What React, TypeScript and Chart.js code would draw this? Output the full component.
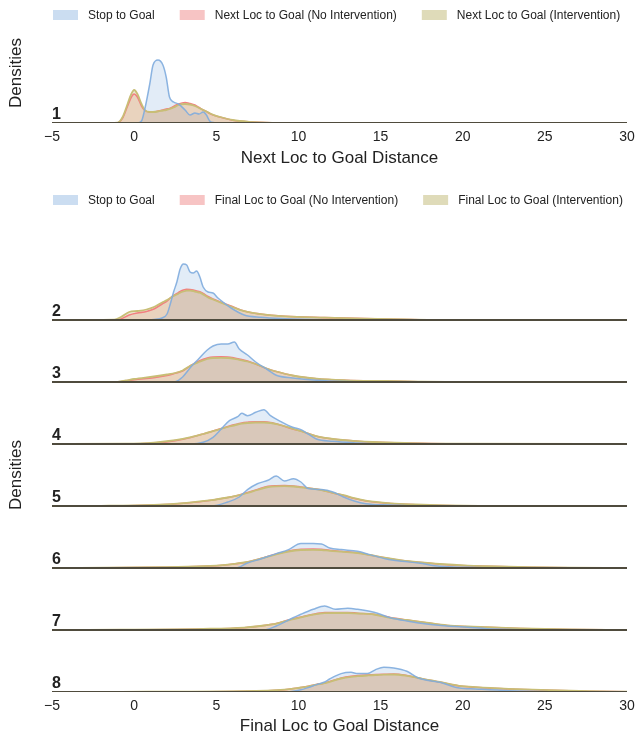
import React, { useEffect, useRef } from "react";
import { Chart, registerables } from "chart.js";

Chart.register(...registerables);

const FONT = "'Liberation Sans', Arial, Helvetica, sans-serif";

// ---------- axis / text ----------
const X_MIN = -5;
const X_MAX = 30;
const X_STEP = 5;
const Y_TITLE = "Densities";
const TOP_X_TITLE = "Next Loc to Goal Distance";
const BOTTOM_X_TITLE = "Final Loc to Goal Distance";
const TOP_LEGEND = ["Stop to Goal", "Next Loc to Goal (No Intervention)", "Next Loc to Goal (Intervention)"];
const BOTTOM_LEGEND = ["Stop to Goal", "Final Loc to Goal (No Intervention)", "Final Loc to Goal (Intervention)"];

// ---------- ridge 1 (Next Loc to Goal) ----------
const ridge1X = [-5, -1.5, -1, -0.7, -0.4, -0.2, 0, 0.2, 0.45, 0.65, 0.95, 1.15, 1.45, 1.75, 1.95, 2.15, 2.4, 2.7, 3.1, 3.4, 3.7, 3.95, 4.2, 4.4, 4.6, 4.9, 5.2, 6, 7, 8.5, 10, 30];
const ridge1Stop = [0, 0, 0, 0, 0, 0, 0, 0, 0.02, 0.14, 0.39, 0.58, 0.63, 0.58, 0.46, 0.26, 0.21, 0.19, 0.13, 0.08, 0.1, 0.09, 0.11, 0.08, 0.02, 0.003, 0, 0, 0, 0, 0, 0];
const ridge1NoInt = [0, 0, 0.003, 0.05, 0.17, 0.25, 0.29, 0.26, 0.17, 0.125, 0.11, 0.11, 0.12, 0.13, 0.14, 0.145, 0.165, 0.19, 0.205, 0.195, 0.18, 0.155, 0.13, 0.115, 0.095, 0.075, 0.06, 0.028, 0.011, 0.002, 0, 0];
const ridge1Int = [0, 0, 0.004, 0.06, 0.19, 0.28, 0.33, 0.29, 0.19, 0.13, 0.11, 0.11, 0.115, 0.125, 0.13, 0.14, 0.155, 0.18, 0.19, 0.185, 0.17, 0.15, 0.13, 0.115, 0.097, 0.077, 0.062, 0.03, 0.012, 0.002, 0, 0];

// ---------- ridges 2..8 (Final Loc to Goal) ----------
const ridge2X = [-5, -1.2, -0.8, -0.3, 0.2, 0.75, 1.2, 1.7, 2.0, 2.2, 2.4, 2.6, 2.8, 3.0, 3.2, 3.4, 3.6, 3.8, 4.0, 4.2, 4.5, 4.8, 5.1, 5.4, 5.9, 6.7, 7.7, 9.2, 11.6, 14, 16.6, 18.5, 30];
const ridge2Stop = [0, 0, 0, 0, 0, 0.002, 0.005, 0.02, 0.06, 0.16, 0.28, 0.38, 0.51, 0.56, 0.55, 0.48, 0.47, 0.49, 0.43, 0.33, 0.28, 0.27, 0.22, 0.18, 0.12, 0.05, 0.027, 0.013, 0.003, 0, 0, 0, 0];
const ridge2NoInt = [0, 0, 0.01, 0.05, 0.07, 0.085, 0.11, 0.16, 0.19, 0.22, 0.245, 0.265, 0.285, 0.3, 0.307, 0.305, 0.3, 0.29, 0.283, 0.265, 0.235, 0.21, 0.19, 0.17, 0.14, 0.09, 0.06, 0.037, 0.024, 0.014, 0.005, 0.001, 0];
const ridge2Int = [0, 0.003, 0.03, 0.08, 0.09, 0.105, 0.13, 0.175, 0.2, 0.22, 0.24, 0.255, 0.273, 0.285, 0.293, 0.293, 0.29, 0.28, 0.273, 0.256, 0.225, 0.205, 0.185, 0.165, 0.135, 0.088, 0.058, 0.036, 0.023, 0.013, 0.005, 0.001, 0];

const ridge3X = [-5, -1, -0.5, 0, 1.2, 2.0, 2.5, 2.95, 3.45, 3.95, 4.45, 4.8, 5.3, 5.7, 6.1, 6.4, 6.9, 7.4, 8.15, 8.65, 9.65, 11.1, 12.9, 15.3, 17.3, 19, 30];
const ridge3Stop = [0, 0, 0, 0, 0, 0, 0.003, 0.05, 0.15, 0.235, 0.32, 0.36, 0.38, 0.38, 0.4, 0.33, 0.27, 0.2, 0.12, 0.067, 0.04, 0.017, 0.005, 0, 0, 0, 0];
const ridge3NoInt = [0, 0, 0.01, 0.023, 0.043, 0.065, 0.088, 0.11, 0.165, 0.21, 0.24, 0.25, 0.252, 0.25, 0.24, 0.23, 0.21, 0.18, 0.13, 0.105, 0.065, 0.033, 0.017, 0.01, 0.003, 0.001, 0];
const ridge3Int = [0, 0.002, 0.015, 0.03, 0.055, 0.075, 0.09, 0.115, 0.165, 0.2, 0.23, 0.24, 0.242, 0.24, 0.232, 0.222, 0.205, 0.18, 0.13, 0.105, 0.065, 0.033, 0.017, 0.01, 0.004, 0.001, 0];

const ridge4X = [-5, -0.5, 1.2, 2.5, 3.45, 4.2, 4.8, 5.3, 5.8, 6.3, 6.55, 6.9, 7.4, 7.9, 8.3, 8.9, 9.65, 10.15, 10.6, 11.1, 12.1, 13.6, 14.5, 16.6, 19, 30];
const ridge4Stop = [0, 0, 0, 0, 0, 0.017, 0.067, 0.15, 0.233, 0.273, 0.307, 0.283, 0.317, 0.343, 0.283, 0.227, 0.167, 0.144, 0.1, 0.05, 0.027, 0.01, 0.003, 0, 0, 0];
const ridge4NoInt = [0, 0, 0.01, 0.034, 0.065, 0.1, 0.13, 0.155, 0.18, 0.2, 0.21, 0.217, 0.223, 0.222, 0.215, 0.19, 0.15, 0.13, 0.105, 0.077, 0.05, 0.028, 0.02, 0.01, 0.003, 0];
const ridge4Int = [0, 0.003, 0.014, 0.038, 0.068, 0.1, 0.128, 0.152, 0.175, 0.195, 0.203, 0.21, 0.215, 0.215, 0.21, 0.19, 0.153, 0.128, 0.105, 0.078, 0.05, 0.028, 0.02, 0.01, 0.003, 0];

const ridge5X = [-5, -2, 1.2, 3.2, 4.7, 5.7, 6.4, 6.9, 7.5, 8.15, 8.65, 9.15, 9.7, 10.15, 10.6, 11.4, 12.1, 12.75, 13.4, 14.1, 15.6, 17.1, 19, 21, 30];
const ridge5Stop = [0, 0, 0, 0, 0, 0.04, 0.09, 0.164, 0.223, 0.257, 0.3, 0.25, 0.273, 0.24, 0.174, 0.164, 0.14, 0.09, 0.05, 0.023, 0.01, 0, 0, 0, 0];
const ridge5NoInt = [0, 0, 0.01, 0.03, 0.057, 0.085, 0.11, 0.135, 0.165, 0.197, 0.203, 0.204, 0.2, 0.19, 0.18, 0.16, 0.13, 0.105, 0.075, 0.05, 0.025, 0.013, 0.005, 0.001, 0];
const ridge5Int = [0, 0.002, 0.012, 0.032, 0.058, 0.085, 0.108, 0.13, 0.16, 0.19, 0.197, 0.198, 0.195, 0.187, 0.178, 0.16, 0.132, 0.108, 0.078, 0.053, 0.027, 0.015, 0.006, 0.002, 0];

const ridge6X = [-5, -3.3, 1.7, 4.2, 5.7, 6.2, 6.9, 7.7, 8.65, 9.4, 10.15, 10.9, 11.4, 11.9, 12.6, 13.6, 14.35, 15.35, 16.3, 17.3, 18.6, 20.3, 21.5, 24, 26.5, 30];
const ridge6Stop = [0, 0, 0, 0, 0, 0, 0.05, 0.09, 0.144, 0.184, 0.244, 0.244, 0.24, 0.2, 0.184, 0.167, 0.134, 0.09, 0.067, 0.05, 0.017, 0.007, 0.002, 0, 0, 0];
const ridge6NoInt = [0, 0, 0.007, 0.017, 0.033, 0.043, 0.06, 0.095, 0.14, 0.17, 0.188, 0.19, 0.187, 0.177, 0.167, 0.152, 0.13, 0.1, 0.075, 0.057, 0.038, 0.022, 0.017, 0.007, 0.002, 0];
const ridge6Int = [0, 0.002, 0.008, 0.018, 0.034, 0.044, 0.06, 0.093, 0.135, 0.165, 0.18, 0.182, 0.18, 0.172, 0.163, 0.15, 0.13, 0.1, 0.077, 0.059, 0.04, 0.024, 0.018, 0.008, 0.003, 0.001];

const ridge7X = [-5, -3.3, 4.2, 6.7, 7.9, 8.65, 9.4, 10.15, 10.9, 11.6, 12.25, 13.0, 13.6, 14.6, 15.6, 16.6, 17.8, 19.05, 20.3, 21.5, 23.5, 26.5, 30];
const ridge7Stop = [0, 0, 0, 0, 0, 0.04, 0.1, 0.157, 0.207, 0.24, 0.207, 0.217, 0.207, 0.177, 0.123, 0.09, 0.06, 0.04, 0.027, 0.013, 0.003, 0, 0];
const ridge7NoInt = [0, 0, 0.01, 0.023, 0.045, 0.065, 0.1, 0.13, 0.158, 0.174, 0.175, 0.175, 0.168, 0.157, 0.125, 0.1, 0.072, 0.045, 0.033, 0.027, 0.015, 0.004, 0.001];
const ridge7Int = [0, 0.002, 0.011, 0.024, 0.045, 0.064, 0.097, 0.126, 0.153, 0.168, 0.17, 0.17, 0.165, 0.155, 0.122, 0.1, 0.073, 0.047, 0.035, 0.028, 0.016, 0.005, 0.001];

const ridge8X = [-5, -0.8, 6.7, 9.15, 10.15, 10.6, 11.1, 11.6, 11.9, 12.6, 13.2, 13.6, 14.2, 14.7, 15.2, 15.8, 16.6, 17.3, 18.1, 18.6, 19.3, 19.8, 20.8, 22.8, 25.3, 27.7, 30];
const ridge8Stop = [0, 0, 0, 0, 0.023, 0.045, 0.074, 0.1, 0.13, 0.184, 0.197, 0.184, 0.184, 0.224, 0.247, 0.24, 0.207, 0.14, 0.11, 0.097, 0.06, 0.04, 0.03, 0.013, 0.003, 0, 0];
const ridge8NoInt = [0, 0, 0.007, 0.023, 0.045, 0.057, 0.075, 0.09, 0.105, 0.14, 0.158, 0.164, 0.17, 0.174, 0.177, 0.18, 0.165, 0.14, 0.114, 0.1, 0.074, 0.06, 0.047, 0.03, 0.017, 0.007, 0.002];
const ridge8Int = [0, 0.002, 0.008, 0.024, 0.045, 0.056, 0.073, 0.088, 0.102, 0.135, 0.152, 0.158, 0.165, 0.17, 0.173, 0.175, 0.162, 0.14, 0.115, 0.102, 0.076, 0.062, 0.049, 0.032, 0.018, 0.008, 0.003];

const TOP_RIDGE_LABELS = ["1"];
const BOTTOM_RIDGE_LABELS = ["2", "3", "4", "5", "6", "7", "8"];

// ---------- styles ----------
// fillOrder: order of the filled area (higher = drawn earlier / lower);
// lineOrder: order of the outline (blue outline drawn above the other fills)
const SERIES_STYLE = [
  { line: "rgba(128,172,222,0.9)", fill: "rgba(110,160,215,0.2)", legend: "rgba(110,160,215,0.36)", width: 1.5, fillOrder: 6, lineOrder: 1 },
  { line: "rgb(242,128,128)", fill: "rgba(235,100,100,0.2)", legend: "rgba(235,100,100,0.38)", width: 1.6, fillOrder: 5, lineOrder: 3 },
  { line: "rgb(200,190,118)", fill: "rgba(185,175,100,0.28)", legend: "rgba(185,175,100,0.45)", width: 1.8, fillOrder: 4, lineOrder: 2 },
];
const BASELINE_COLOR = "#4f4b3d";
const TEXT_COLOR = "#222222";

type Ridge = { label: string; offset: number; x: number[]; series: number[][] };

type PanelCfg = {
  legend: string[];
  xTitle: string;
  ridges: Ridge[];
  yMax: number;
  padTop: number;
  xAxisHeight: number;
  titlePadBottom: number;
  legendTop: number;
};

function fmtTick(v: number | string) {
  const n = Number(v);
  return n < 0 ? "\u2212" + Math.abs(n) : String(n);
}

function buildChart(canvas: HTMLCanvasElement, cfg: PanelCfg) {
  const datasets: any[] = [];
  cfg.ridges.forEach((r) => {
    datasets.push({
      data: [
        { x: X_MIN, y: r.offset },
        { x: X_MAX, y: r.offset },
      ],
      borderColor: BASELINE_COLOR,
      borderWidth: 2,
      pointRadius: 0,
      fill: false,
      order: 0,
    });
    r.series.forEach((ys, si) => {
      const st = SERIES_STYLE[si];
      const pts = r.x.map((xv, i) => ({ x: xv, y: r.offset + ys[i] }));
      // filled area
      datasets.push({
        data: pts,
        borderColor: "rgba(0,0,0,0)",
        backgroundColor: st.fill,
        borderWidth: 0,
        pointRadius: 0,
        cubicInterpolationMode: "monotone",
        fill: { value: r.offset },
        order: st.fillOrder,
      });
      // outline
      datasets.push({
        data: pts,
        borderColor: st.line,
        borderWidth: st.width,
        pointRadius: 0,
        cubicInterpolationMode: "monotone",
        fill: false,
        order: st.lineOrder,
      });
    });
  });

  const overlay = {
    id: "overlay",
    afterDraw(chart: any) {
      const { ctx, chartArea, scales } = chart;
      ctx.save();
      // legend
      ctx.font = `12px ${FONT}`;
      ctx.textBaseline = "middle";
      ctx.textAlign = "left";
      let x = chartArea.left + 1;
      cfg.legend.forEach((txt, i) => {
        ctx.fillStyle = SERIES_STYLE[i].legend;
        ctx.fillRect(x, cfg.legendTop, 25, 10);
        ctx.fillStyle = TEXT_COLOR;
        ctx.fillText(txt, x + 35, cfg.legendTop + 5.5);
        x += 35 + ctx.measureText(txt).width + 25;
      });
      // ridge labels
      ctx.font = `bold 16px ${FONT}`;
      ctx.fillStyle = TEXT_COLOR;
      cfg.ridges.forEach((r) => {
        ctx.fillText(r.label, chartArea.left, scales.y.getPixelForValue(r.offset) - 8);
      });
      ctx.restore();
    },
  };

  return new Chart(canvas, {
    type: "line",
    data: { datasets },
    plugins: [overlay],
    options: {
      animation: false,
      responsive: false,
      events: [],
      layout: { padding: { top: cfg.padTop, right: 9, left: 0, bottom: 0 } },
      plugins: { legend: { display: false }, tooltip: { enabled: false } },
      scales: {
        x: {
          type: "linear",
          min: X_MIN,
          max: X_MAX,
          ticks: {
            stepSize: X_STEP,
            padding: 6,
            color: TEXT_COLOR,
            font: { family: FONT, size: 14 },
            maxRotation: 0,
            autoSkip: false,
            callback: (v: any) => fmtTick(v),
          },
          grid: { display: false, drawTicks: false },
          border: { display: false },
          title: {
            display: true,
            text: cfg.xTitle,
            color: TEXT_COLOR,
            font: { family: FONT, size: 17, lineHeight: 1 },
            padding: { top: 0, bottom: cfg.titlePadBottom },
          },
          afterFit: (s: any) => {
            s.height = cfg.xAxisHeight;
            s.paddingLeft = 0;
            s.paddingRight = 0;
          },
        },
        y: {
          min: 0,
          max: cfg.yMax,
          ticks: { display: false },
          grid: { display: false, drawTicks: false },
          border: { display: false },
          title: {
            display: true,
            text: Y_TITLE,
            color: TEXT_COLOR,
            font: { family: FONT, size: 17, lineHeight: 1 },
            padding: { top: 8, bottom: 0 },
          },
          afterFit: (s: any) => {
            s.width = 52;
            s.paddingTop = 0;
            s.paddingBottom = 0;
          },
        },
      },
    } as any,
  });
}

const RIDGE_SPAN = 0.62;

export default function App() {
  const topRef = useRef<HTMLCanvasElement>(null);
  const botRef = useRef<HTMLCanvasElement>(null);

  useEffect(() => {
    const topRidges: Ridge[] = [
      { label: TOP_RIDGE_LABELS[0], offset: 0, x: ridge1X, series: [ridge1Stop, ridge1NoInt, ridge1Int] },
    ];
    const bottomData = [
      [ridge2X, ridge2Stop, ridge2NoInt, ridge2Int],
      [ridge3X, ridge3Stop, ridge3NoInt, ridge3Int],
      [ridge4X, ridge4Stop, ridge4NoInt, ridge4Int],
      [ridge5X, ridge5Stop, ridge5NoInt, ridge5Int],
      [ridge6X, ridge6Stop, ridge6NoInt, ridge6Int],
      [ridge7X, ridge7Stop, ridge7NoInt, ridge7Int],
      [ridge8X, ridge8Stop, ridge8NoInt, ridge8Int],
    ];
    const n = bottomData.length;
    const bottomRidges: Ridge[] = bottomData.map((d, i) => ({
      label: BOTTOM_RIDGE_LABELS[i],
      offset: (n - 1 - i) * RIDGE_SPAN,
      x: d[0],
      series: [d[1], d[2], d[3]],
    }));

    const a = buildChart(topRef.current!, {
      legend: TOP_LEGEND,
      xTitle: TOP_X_TITLE,
      ridges: topRidges,
      yMax: 1.0,
      padTop: 23,
      xAxisHeight: 47,
      titlePadBottom: 3.5,
      legendTop: 10,
    });
    const b = buildChart(botRef.current!, {
      legend: BOTTOM_LEGEND,
      xTitle: BOTTOM_X_TITLE,
      ridges: bottomRidges,
      yMax: n * RIDGE_SPAN,
      padTop: 78,
      xAxisHeight: 43,
      titlePadBottom: 0,
      legendTop: 15,
    });
    return () => {
      a.destroy();
      b.destroy();
    };
  }, []);

  return (
    <div style={{ position: "absolute", left: 0, top: 0, width: 636, height: 735, background: "#fff", overflow: "hidden" }}>
      <canvas ref={topRef} width={636} height={170} style={{ position: "absolute", left: 0, top: 0 }} />
      <canvas ref={botRef} width={636} height={555} style={{ position: "absolute", left: 0, top: 180 }} />
    </div>
  );
}
